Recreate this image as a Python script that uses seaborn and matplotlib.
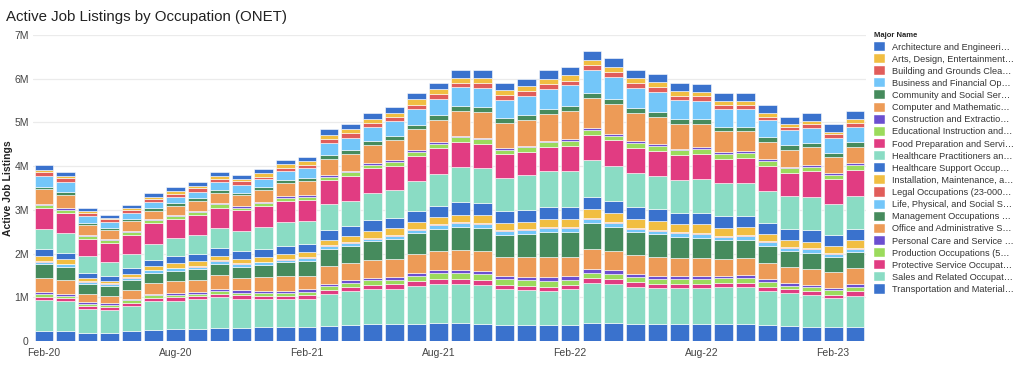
# Active Job Listings by Occupation (ONET) - stacked monthly bars
import pandas as pd
import numpy as np
import matplotlib
matplotlib.use("Agg")
import matplotlib.pyplot as plt
import seaborn as sns
from matplotlib.patches import Patch
from matplotlib.ticker import FuncFormatter

# Months shown on the x axis
months = ["Feb-20", "Mar-20", "Apr-20", "May-20", "Jun-20", "Jul-20", "Aug-20", "Sep-20",
          "Oct-20", "Nov-20", "Dec-20", "Jan-21", "Feb-21", "Mar-21", "Apr-21", "May-21",
          "Jun-21", "Jul-21", "Aug-21", "Sep-21", "Oct-21", "Nov-21", "Dec-21", "Jan-22",
          "Feb-22", "Mar-22", "Apr-22", "May-22", "Jun-22", "Jul-22", "Aug-22", "Sep-22",
          "Oct-22", "Nov-22", "Dec-22", "Jan-23", "Feb-23", "Mar-23"]

# Legend names (as truncated in the chart), top of stack first
occupations = ["Architecture and Engineeri…", "Arts, Design, Entertainment…",
               "Building and Grounds Clea…", "Business and Financial Op…",
               "Community and Social Ser…", "Computer and Mathematic…",
               "Construction and Extractio…", "Educational Instruction and…",
               "Food Preparation and Servi…", "Healthcare Practitioners an…",
               "Healthcare Support Occup…", "Installation, Maintenance, a…",
               "Legal Occupations (23-000…", "Life, Physical, and Social S…",
               "Management Occupations …", "Office and Administrative S…",
               "Personal Care and Service …", "Production Occupations (5…",
               "Protective Service Occupat…", "Sales and Related Occupat…",
               "Transportation and Material…"]

colors = ["#3a72cd", "#f1be42", "#e15d5a", "#73c6f9", "#468b5d", "#ed9b57", "#6b4fd0",
          "#9bdb5c", "#e13c82", "#8adcc4",
          "#3a72cd", "#f1be42", "#e15d5a", "#73c6f9", "#468b5d", "#ed9b57", "#6b4fd0",
          "#9bdb5c", "#e13c82", "#8adcc4", "#3a72cd"]

# Active listings, thousands
architecture = [114, 92, 76, 69, 76, 76, 76, 76, 84, 92, 76, 84, 92, 137, 122, 137, 137, 137, 153, 175,
                175, 175, 175, 191, 183, 206, 206, 191, 191, 183, 183, 183, 183, 191, 168, 175, 168, 183]
arts = [61, 46, 46, 38, 46, 53, 76, 61, 69, 53, 92, 84, 84, 84, 92, 99, 99, 137, 107, 114,
        114, 114, 114, 122, 122, 122, 130, 122, 114, 99, 92, 92, 92, 84, 61, 61, 53, 76]
building = [76, 92, 61, 61, 61, 76, 69, 76, 76, 76, 61, 69, 69, 92, 99, 99, 99, 107, 107, 107,
            114, 107, 107, 107, 107, 114, 114, 114, 114, 99, 107, 99, 99, 84, 84, 99, 92, 92]
business = [252, 229, 153, 130, 137, 137, 145, 153, 183, 183, 183, 221, 236, 282, 290, 305, 343, 351, 381, 435,
            450, 420, 435, 458, 473, 519, 503, 450, 450, 442, 420, 397, 397, 374, 343, 343, 343, 351]
community = [61, 76, 61, 53, 61, 53, 61, 61, 61, 61, 61, 61, 76, 84, 84, 99, 92, 99, 107, 114,
             107, 107, 107, 107, 114, 114, 107, 114, 114, 107, 107, 99, 99, 114, 99, 99, 99, 107]
computer = [328, 305, 214, 198, 214, 198, 214, 221, 236, 252, 275, 297, 320, 374, 381, 412, 442, 473, 496, 557,
            587, 580, 595, 626, 648, 702, 679, 633, 633, 565, 534, 488, 465, 397, 389, 404, 366, 374]
construction = [38, 31, 23, 31, 23, 23, 23, 31, 31, 31, 23, 38, 46, 38, 38, 46, 46, 46, 46, 38,
                31, 38, 31, 31, 38, 38, 46, 46, 38, 38, 46, 38, 38, 46, 38, 38, 38, 46]
educational = [69, 76, 76, 69, 69, 69, 69, 69, 76, 61, 61, 69, 61, 76, 76, 76, 92, 99, 107, 107,
               107, 99, 107, 114, 114, 114, 107, 114, 114, 114, 114, 114, 107, 107, 99, 99, 99, 107]
food = [481, 465, 397, 427, 442, 473, 427, 450, 465, 473, 496, 488, 473, 549, 572, 572, 549, 572, 587, 580,
        565, 534, 519, 549, 572, 580, 595, 580, 572, 565, 572, 557, 580, 572, 542, 595, 565, 610]
hc_practitioners = [458, 450, 374, 320, 328, 359, 420, 435, 458, 465, 488, 542, 526, 580, 580, 618, 641, 679, 725, 793,
                    786, 770, 809, 824, 816, 831, 793, 778, 763, 755, 770, 755, 755, 732, 748, 755, 709, 740]
hc_support = [160, 145, 122, 122, 130, 145, 160, 168, 175, 175, 183, 191, 198, 229, 229, 236, 229, 252, 267, 290,
              290, 259, 267, 267, 282, 290, 275, 275, 267, 252, 259, 259, 259, 259, 259, 267, 244, 267]
installation = [107, 99, 69, 53, 69, 84, 99, 114, 107, 99, 114, 114, 114, 130, 145, 160, 168, 168, 160, 175,
                175, 175, 175, 191, 183, 198, 198, 198, 198, 191, 198, 183, 183, 153, 145, 153, 160, 175]
legal = [23, 15, 15, 15, 15, 15, 15, 15, 15, 23, 15, 15, 23, 23, 23, 23, 23, 23, 23, 23,
         23, 23, 23, 23, 23, 23, 23, 23, 23, 23, 23, 23, 23, 23, 23, 23, 23, 23]
life_science = [53, 61, 46, 46, 53, 53, 53, 53, 61, 53, 53, 61, 61, 61, 61, 61, 76, 76, 92, 92,
                84, 76, 76, 84, 84, 92, 92, 76, 84, 84, 84, 76, 76, 92, 76, 84, 84, 76]
management = [320, 305, 229, 221, 221, 236, 244, 244, 267, 259, 282, 313, 336, 397, 389, 427, 442, 473, 496, 526,
              526, 503, 542, 580, 580, 603, 557, 526, 519, 473, 458, 427, 427, 389, 359, 359, 343, 366]
office = [305, 305, 198, 168, 206, 244, 259, 275, 305, 282, 313, 336, 313, 397, 389, 404, 412, 435, 435, 450,
          458, 442, 450, 450, 435, 458, 442, 435, 427, 412, 412, 389, 389, 381, 381, 374, 359, 366]
personal_care = [53, 53, 38, 38, 38, 38, 53, 53, 46, 53, 53, 61, 69, 61, 69, 61, 69, 69, 76, 76,
                 84, 76, 69, 84, 84, 76, 76, 69, 69, 69, 69, 61, 61, 61, 53, 53, 53, 61]
production = [69, 53, 53, 53, 53, 53, 53, 53, 69, 61, 61, 53, 69, 76, 92, 107, 107, 114, 122, 130,
              122, 130, 130, 137, 130, 130, 130, 122, 114, 122, 114, 107, 114, 107, 76, 92, 107, 99]
protective = [76, 69, 61, 61, 76, 84, 84, 69, 76, 76, 69, 69, 76, 99, 92, 92, 99, 107, 114, 114,
              122, 99, 92, 92, 92, 107, 107, 99, 99, 92, 92, 99, 99, 92, 92, 92, 76, 99]
sales = [694, 671, 542, 526, 580, 656, 648, 671, 702, 664, 648, 641, 641, 725, 778, 809, 816, 870, 908, 900,
         885, 824, 816, 793, 824, 923, 900, 854, 831, 831, 839, 847, 839, 786, 763, 717, 664, 709]
transportation = [236, 236, 191, 191, 221, 252, 267, 282, 305, 305, 320, 328, 328, 351, 366, 381, 381, 397, 404, 404,
                  397, 359, 359, 359, 359, 404, 404, 389, 381, 381, 381, 381, 389, 366, 336, 328, 313, 328]

series = [architecture, arts, building, business, community, computer, construction, educational,
          food, hc_practitioners, hc_support, installation, legal, life_science, management, office,
          personal_care, production, protective, sales, transportation]

# long table for seaborn
rows = []
for occ, vals in zip(occupations, series):
    for i, v in enumerate(vals):
        rows.append({"idx": i, "occupation": occ, "listings": v * 1000})
df = pd.DataFrame(rows)

sns.set_style("white")
plt.rcParams["font.family"] = ["Liberation Sans", "DejaVu Sans"]

fig = plt.figure(figsize=(10.24, 3.68), dpi=100)
ax = fig.add_axes([33 / 1024, 27 / 368, 833 / 1024, 306 / 368])

sns.histplot(data=df, x="idx", weights="listings", hue="occupation", hue_order=occupations,
             multiple="stack", discrete=True, shrink=0.86, palette=colors, alpha=1,
             edgecolor="white", linewidth=0.4, legend=False, ax=ax)

ax.set_xlim(-0.5, len(months) - 0.5)
ax.set_ylim(0, 7e6)
ax.set_yticks(np.arange(0, 7.5e6, 1e6))
ax.yaxis.set_major_formatter(FuncFormatter(lambda v, p: "0" if v == 0 else f"{int(round(v / 1e6))}M"))
ax.set_xticks(range(0, len(months), 6))
ax.set_xticklabels(months[::6])
ax.tick_params(axis="x", length=3, width=0.8, color="#cccccc", labelsize=7.5, labelcolor="#444444", pad=2)
ax.tick_params(axis="y", length=0, labelsize=7.5, labelcolor="#444444", pad=3)
ax.yaxis.grid(True, color="#ebebeb", linewidth=0.9)
ax.set_axisbelow(True)
for s in ax.spines.values():
    s.set_visible(False)
ax.set_xlabel("")
ax.set_ylabel("Active Job Listings", fontsize=7.5, fontweight="bold", color="#222222", labelpad=1)

fig.text(0.006, 0.955, "Active Job Listings by Occupation (ONET)", fontsize=10.8, color="#222222",
         va="center", ha="left")

handles = [Patch(facecolor=c, edgecolor="white", linewidth=0.3) for c in colors]
leg = fig.legend(handles, occupations, loc="upper left", bbox_to_anchor=(0.854, 0.912),
                 frameon=False, fontsize=6.6, title="Major Name",
                 title_fontproperties={"weight": "bold", "size": 5.5},
                 handlelength=1.15, handleheight=1.15, handletextpad=0.75,
                 labelspacing=0.27, borderpad=0, borderaxespad=0, alignment="left")
for t in leg.get_texts():
    t.set_color("#333333")

fig.savefig("out.png", dpi=100)
